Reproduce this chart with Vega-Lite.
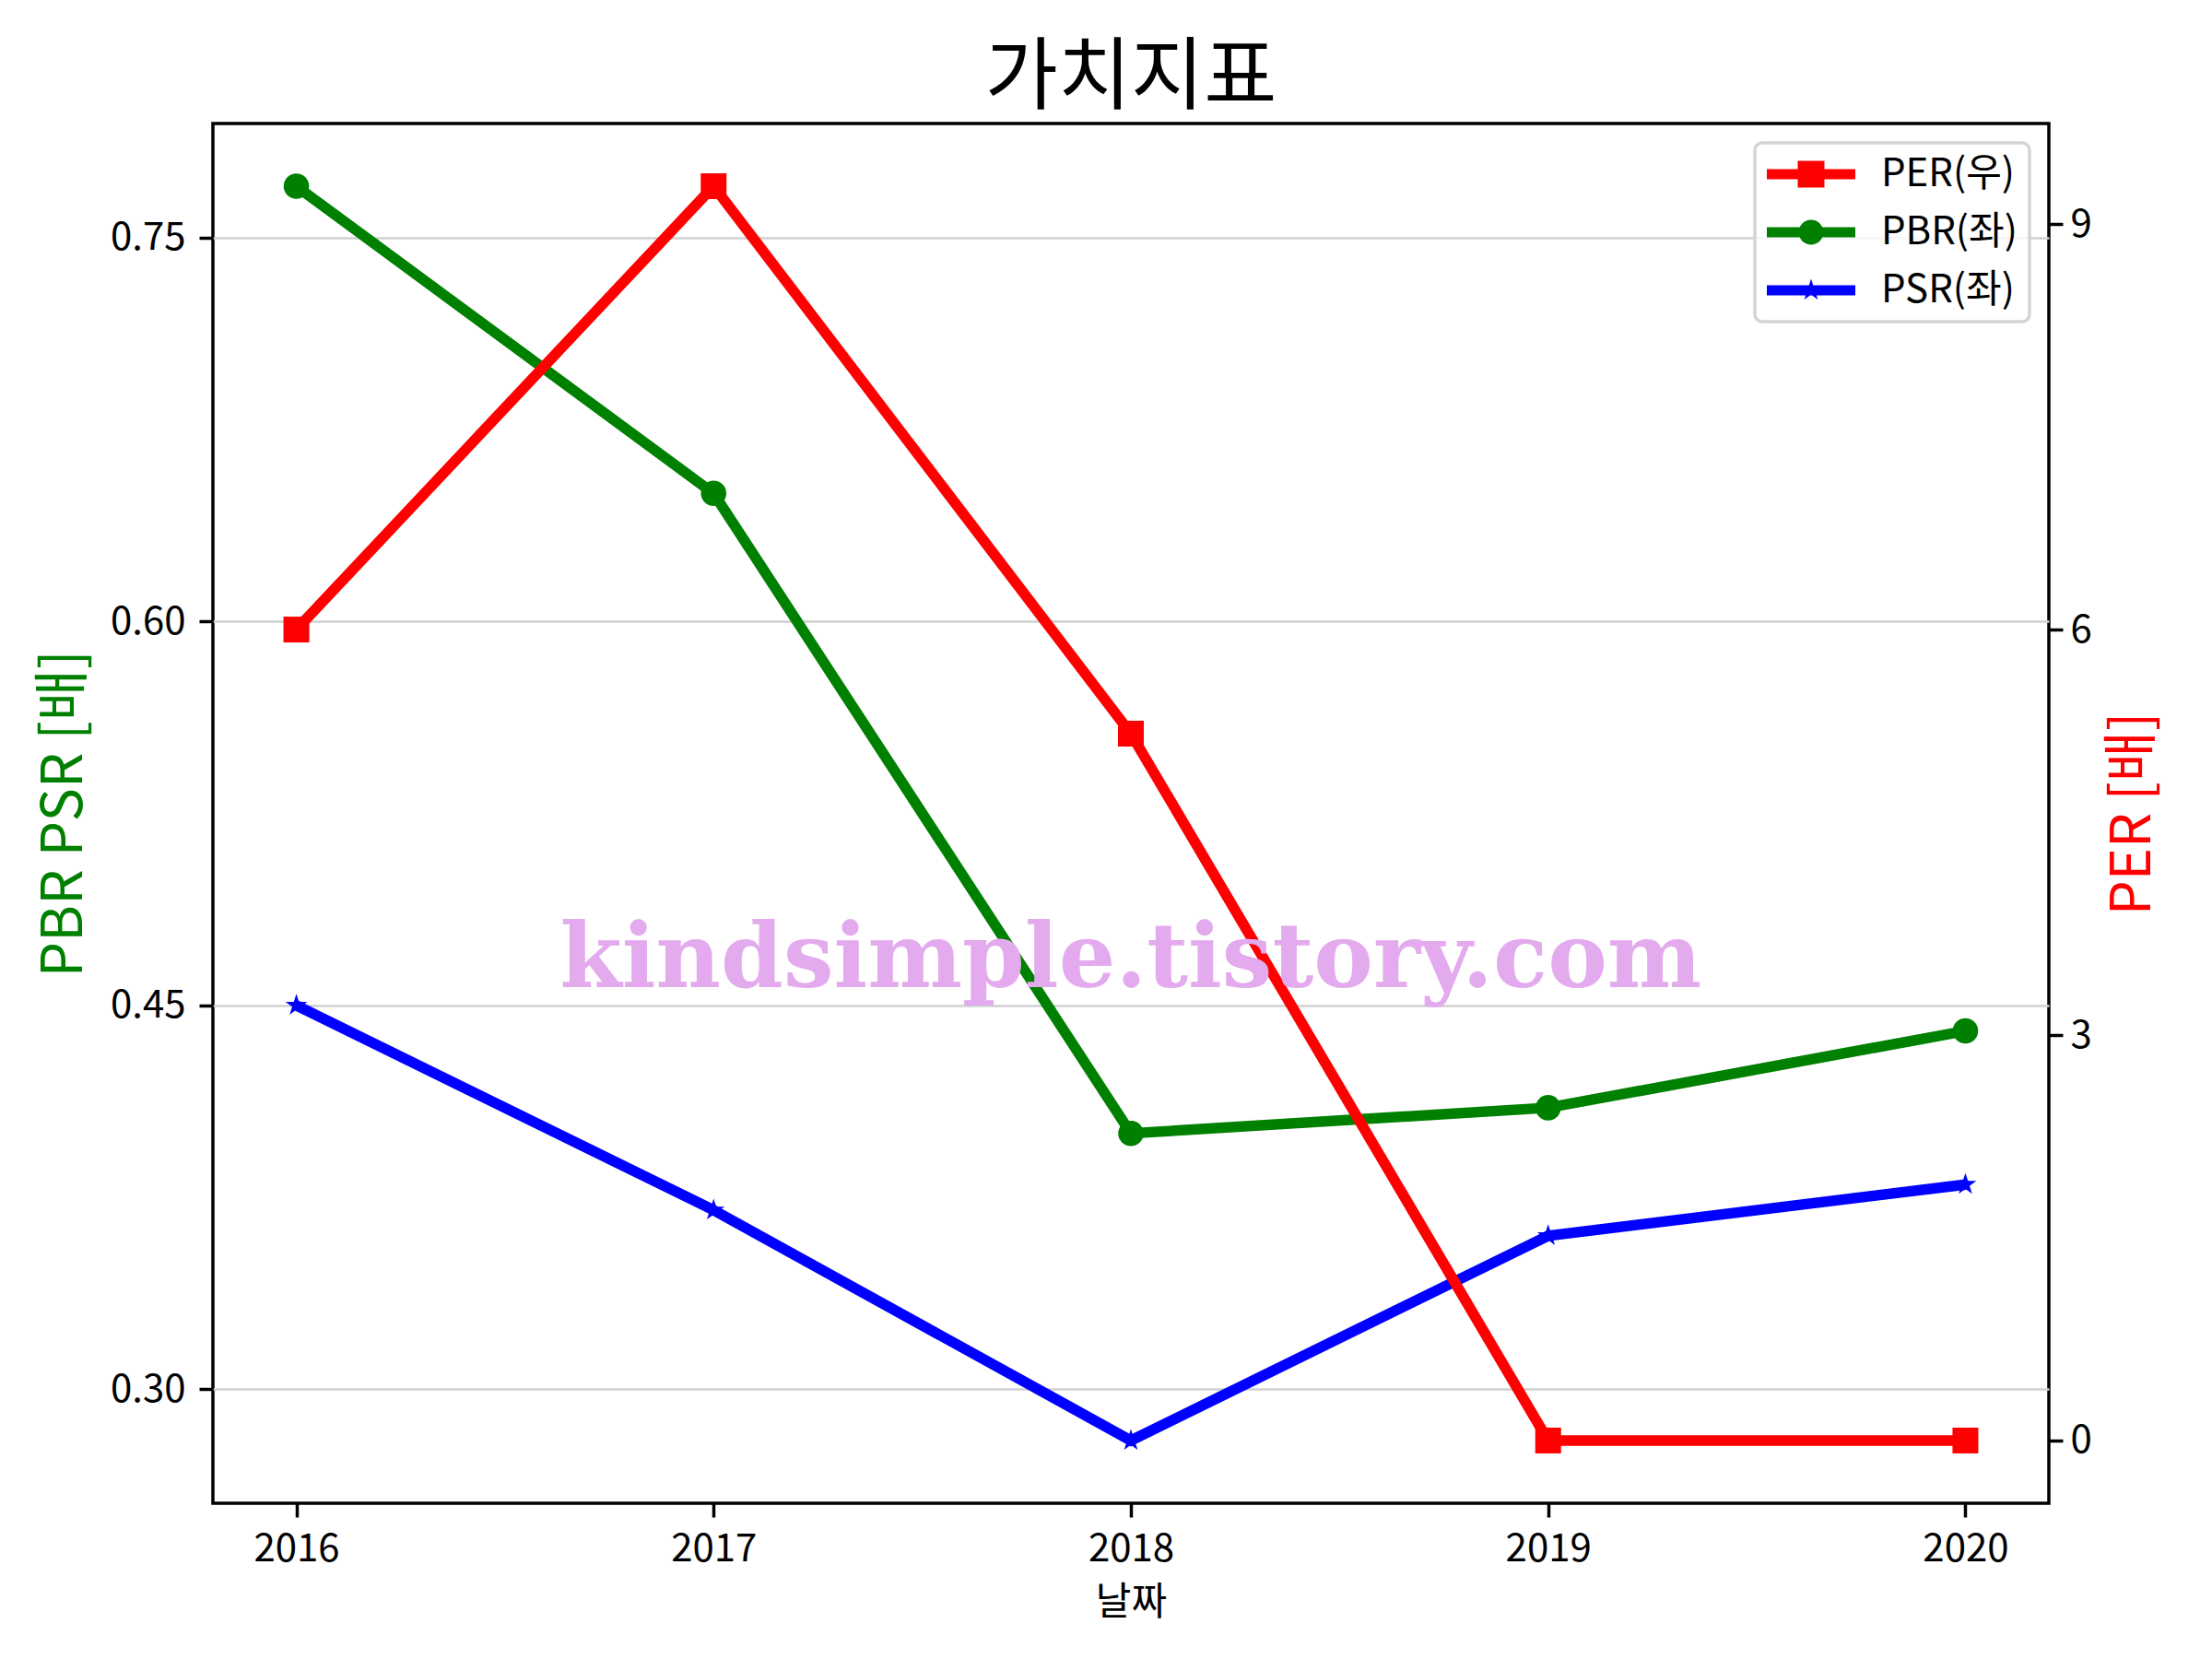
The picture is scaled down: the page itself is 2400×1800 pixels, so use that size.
{
  "$schema": "https://vega.github.io/schema/vega-lite/v6.json",
  "width": 1992,
  "height": 1497,
  "autosize": {"type": "none"},
  "padding": {"left": 231, "top": 134, "right": 177, "bottom": 169},
  "background": "white",
  "title": {"text": "가치지표", "font": "Noto Sans CJK KR", "fontSize": 86, "fontWeight": "normal", "color": "black", "anchor": "middle", "offset": 4},
  "config": {
    "view": {"stroke": "black", "strokeWidth": 3.5},
    "font": "Noto Sans CJK KR",
    "axis": {"domain": false, "grid": false, "tickColor": "black", "tickSize": 15, "tickWidth": 3.5, "labelFont": "Noto Sans CJK KR", "labelFontSize": 42, "labelColor": "black", "labelPadding": 14, "titleFont": "Noto Sans CJK KR", "titleFontWeight": "normal"},
    "legend": {"strokeColor": "#d4d4d4", "strokeWidth": 3.5, "cornerRadius": 8, "fillColor": "rgba(255,255,255,0.8)", "padding": 13}
  },
  "data": {"values": [
    {"year": 2016, "series": "PER(우)", "value": 6.0},
    {"year": 2017, "series": "PER(우)", "value": 9.28},
    {"year": 2018, "series": "PER(우)", "value": 5.23},
    {"year": 2019, "series": "PER(우)", "value": 0},
    {"year": 2020, "series": "PER(우)", "value": 0},
    {"year": 2016, "series": "PBR(좌)", "value": 0.77},
    {"year": 2017, "series": "PBR(좌)", "value": 0.65},
    {"year": 2018, "series": "PBR(좌)", "value": 0.40},
    {"year": 2019, "series": "PBR(좌)", "value": 0.41},
    {"year": 2020, "series": "PBR(좌)", "value": 0.44},
    {"year": 2016, "series": "PSR(좌)", "value": 0.45},
    {"year": 2017, "series": "PSR(좌)", "value": 0.37},
    {"year": 2018, "series": "PSR(좌)", "value": 0.28},
    {"year": 2019, "series": "PSR(좌)", "value": 0.36},
    {"year": 2020, "series": "PSR(좌)", "value": 0.38}
  ]},
  "layer": [
    {
      "encoding": {
        "x": {"field": "year", "type": "quantitative", "scale": {"domain": [2015.8, 2020.2], "nice": false, "zero": false},
              "axis": {"values": [2016, 2017, 2018, 2019, 2020], "format": "d", "title": "날짜", "titleFontSize": 42, "titleColor": "black", "titlePadding": 17}},
        "y": {"field": "value", "type": "quantitative", "scale": {"domain": [0.2555, 0.7945], "nice": false, "zero": false},
              "axis": {"orient": "left", "values": [0.3, 0.45, 0.6, 0.75], "format": ".2f", "grid": true, "gridColor": "#d0d0d0", "gridWidth": 2.7, "title": "PBR PSR [배]", "titleColor": "#008000", "titleFontSize": 61, "titlePadding": 18, "labelPadding": 15}}
      },
      "layer": [
        {"transform": [{"filter": "datum.series === 'PBR(좌)'"}], "mark": {"type": "line", "color": "#008000", "strokeWidth": 11.5}},
        {"transform": [{"filter": "datum.series === 'PBR(좌)'"}], "mark": {"type": "point", "shape": "circle", "filled": true, "opacity": 1, "size": 760, "strokeWidth": 0, "color": "#008000"}},
        {"transform": [{"filter": "datum.series === 'PSR(좌)'"}], "mark": {"type": "line", "color": "#0000ff", "strokeWidth": 11.5}},
        {"transform": [{"filter": "datum.series === 'PSR(좌)'"}], "mark": {"type": "point", "shape": "M0,-0.89L0.1998,-0.275L0.8465,-0.275L0.3233,0.105L0.5231,0.72L0,0.34L-0.5231,0.72L-0.3233,0.105L-0.8465,-0.275L-0.1998,-0.275Z", "filled": true, "opacity": 1, "size": 784, "strokeWidth": 0, "color": "#0000ff"}},
        {"transform": [{"filter": "false"}],
         "mark": {"type": "point", "filled": true, "opacity": 1, "size": 1024, "strokeWidth": 0},
         "encoding": {
           "color": {"field": "series", "type": "nominal", "scale": {"domain": ["PER(우)", "PBR(좌)", "PSR(좌)"], "range": ["#ff0000", "#008000", "#0000ff"]},
                     "legend": {"orient": "top-right", "offset": 21, "title": null, "symbolSize": 1024, "symbolOffset": 27, "labelOffset": 55, "labelFont": "Noto Sans CJK KR", "labelFontSize": 42, "labelColor": "black", "labelLimit": 0, "rowPadding": 21, "symbolStrokeWidth": 0, "symbolOpacity": 1}},
           "shape": {"field": "series", "type": "nominal", "scale": {"domain": ["PER(우)", "PBR(좌)", "PSR(좌)"], "range": [
               "M-3,-0.344H3V0.344H-3ZM-0.906,-0.906H0.906V0.906H-0.906Z",
               "M-3,-0.344H3V0.344H-3ZM-0.84,0A0.84,0.84,0,1,1,0.84,0A0.84,0.84,0,1,1,-0.84,0Z",
               "M-3,-0.344H3V0.344H-3ZM0,-0.78L0.1751,-0.241L0.7419,-0.241L0.2834,0.092L0.4585,0.631L0,0.298L-0.4585,0.631L-0.2834,0.092L-0.7419,-0.241L-0.1751,-0.241Z"]},
                     "legend": {"orient": "top-right", "offset": 21, "title": null, "symbolSize": 1024, "symbolOffset": 27, "labelOffset": 55, "labelFont": "Noto Sans CJK KR", "labelFontSize": 42, "labelColor": "black", "labelLimit": 0, "rowPadding": 21, "symbolStrokeWidth": 0, "symbolOpacity": 1}}
         }}
      ]
    },
    {
      "encoding": {
        "x": {"field": "year", "type": "quantitative", "scale": {"domain": [2015.8, 2020.2], "nice": false, "zero": false},
              "axis": {"values": [2016, 2017, 2018, 2019, 2020], "format": "d", "title": "날짜", "titleFontSize": 42, "titleColor": "black", "titlePadding": 17}},
        "y": {"field": "value", "type": "quantitative", "scale": {"domain": [-0.464, 9.744], "nice": false, "zero": false},
              "axis": {"orient": "right", "values": [0, 3, 6, 9], "format": "d", "grid": false, "title": "PER [배]", "titleColor": "#ff0000", "titleFontSize": 60, "titleAngle": 270, "titleBaseline": "top", "titlePadding": 16, "labelPadding": 8}}
      },
      "layer": [
        {"transform": [{"filter": "datum.series === 'PER(우)'"}], "mark": {"type": "line", "color": "#ff0000", "strokeWidth": 11.5}},
        {"transform": [{"filter": "datum.series === 'PER(우)'"}], "mark": {"type": "point", "shape": "square", "filled": true, "opacity": 1, "size": 784, "strokeWidth": 0, "color": "#ff0000"}},
        {"transform": [{"filter": "datum.series === 'PER(우)' && datum.year === 2018"}],
         "mark": {"type": "text", "font": "DejaVu Serif", "fontWeight": "bold", "fontSize": 97, "color": "#e4aaee", "align": "center", "baseline": "alphabetic"},
         "encoding": {"x": {"datum": 2018, "type": "quantitative"}, "y": {"datum": 3.354, "type": "quantitative"}, "text": {"value": "kindsimple.tistory.com"}}}
      ]
    }
  ],
  "resolve": {"scale": {"y": "independent"}}
}
